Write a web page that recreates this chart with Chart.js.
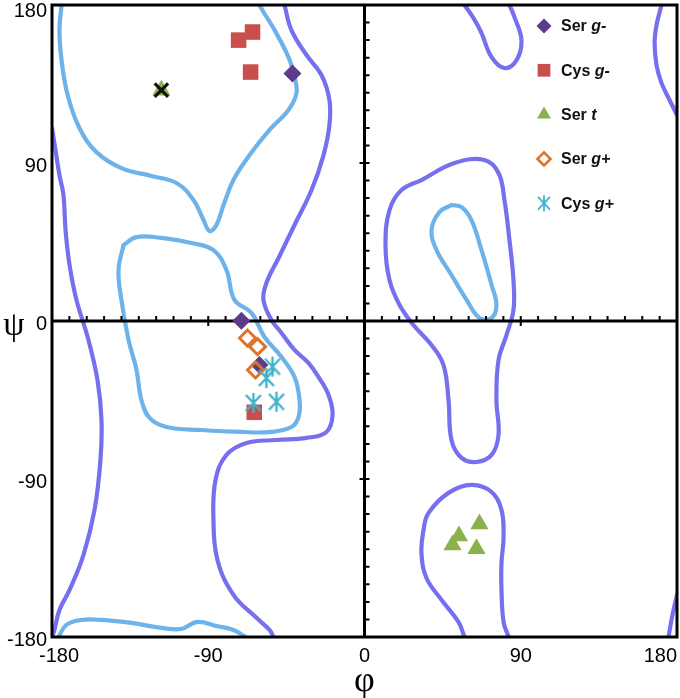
<!DOCTYPE html>
<html><head><meta charset="utf-8">
<script src="https://cdn.jsdelivr.net/npm/chart.js@4.4.1/dist/chart.umd.min.js"></script>
<style>html,body{margin:0;padding:0;background:#fff;}canvas{display:block;}</style>
</head><body>
<canvas id="c" width="680" height="698"></canvas>
<script>
// ---- tick labels ----
const X_TICKS = [-180, -90, 0, 90, 180];
const Y_TICKS = [-180, -90, 0, 90, 180];
const MINOR_TICKS = [-170,-160,-150,-140,-130,-120,-110,-100,-90,-80,-70,-60,-50,-40,-30,-20,-10,
                     10,20,30,40,50,60,70,80,90,100,110,120,130,140,150,160,170];

// ---- legend ----
const LEGEND = [['Ser ', 'g-'], ['Cys ', 'g-'], ['Ser ', 't'], ['Ser ', 'g+'], ['Cys ', 'g+']];

// ---- points [phi, psi] ----
const SER_GMINUS = [[-41.5, 141], [-70.9, 0.2], [-60.5, -25]];
const CYS_GMINUS = [[-72.5, 160], [-64.5, 164.6], [-65.6, 141.8], [-63.5, -52]];
const SER_T = [[-117, 131.5], [66.2, -115.6], [54.4, -122.4], [50.7, -127.6], [64.5, -129.8]];
const SER_GPLUS = [[-67.4, -9.7], [-61.6, -14.6], [-62.8, -27.9]];
const CYS_GPLUS = [[-53, -26], [-56.5, -32.5], [-64, -46.7], [-50.7, -46]];
const X_MARK = [[-117, 131.5]];

// ---- contours [phi, psi] ----
const BLUE_BETA = [[-174.5,180],[-175.7,165.7],[-174.5,148.6],[-171,128.7],[-164.2,109.9],[-154.4,96.2],[-140,87.1],
  [-122.7,82.6],[-108.3,78.6],[-98.5,68.9],[-92.7,57.5],[-89.3,51.3],[-85.3,54.7],[-81.2,66.1],[-75.5,80.3],
  [-66.2,94.5],[-54.7,108.8],[-43.8,120.2],[-39.2,129.8],[-40.3,139],[-43.8,150.3],[-51.8,165.7],[-58.2,176],[-60.5,180]];
const BLUE_ALPHA = [[-138.8,43.3],[-131.3,47.8],[-116.9,47.3],[-99.7,44.4],[-87,40.4],[-79.5,29],[-74.9,12],[-65.1,4.6],
  [-57.6,-9.1],[-47.8,-20.5],[-40.3,-31.9],[-37.4,-45],[-38,-54.7],[-42.1,-60.4],[-53.6,-63.2],[-70.9,-63.2],
  [-93.9,-62.1],[-114.1,-60.4],[-123.8,-55.2],[-128.5,-45],[-131.3,-27.9],[-135.9,-10.8],[-140,12],[-141.7,29],[-138.8,43.3]];
const BLUE_BOTTOM = [[-176.3,-180],[-171.7,-173.1],[-163,-170.3],[-151.5,-170.3],[-134.2,-172],[-116.9,-174.8],
  [-105.4,-175.4],[-96.2,-171.4],[-85.3,-173.7],[-75.5,-176],[-68.5,-180]];
const BLUE_LEFTHAND = [[50.1,66.1],[55.9,64.9],[61.6,57.5],[67.4,40.4],[73.2,20.5],[76,9.1],[73.2,1.7],[66.2,1.7],
  [58.8,12],[50.1,26.2],[41.5,40.4],[38.6,51.8],[43.2,62.1],[50.1,66.1]];

const PURPLE_MAIN = [[-46.1,180],[-42.1,165.7],[-33.4,151.5],[-24.8,140.1],[-20.2,125.9],[-20.2,111.6],[-23.6,94.5],
  [-30.5,74.6],[-40.3,54.7],[-49.5,35.9],[-56.5,21.6],[-58.2,12],[-53.6,0.6],[-47.8,-6.8],[-40.3,-16.5],[-32.3,-23.9],
  [-26.5,-31.9],[-20.7,-42.1],[-18.4,-53.5],[-21.9,-63.2],[-33.4,-66.6],[-50.7,-67.8],[-68,-69.5],[-79.5,-76.3],
  [-85.8,-90.5],[-87,-113.3],[-84.7,-136.1],[-75.5,-156],[-62.2,-169.1],[-54.7,-176],[-52.4,-180]];
const PURPLE_LEFT = [[-180,109.9],[-178,97.4],[-175.7,83.1],[-173.4,71.8],[-172.2,51.8],[-169.9,31.9],[-165.9,12],
  [-159,-10.8],[-153.8,-33.6],[-151.5,-56.4],[-152.1,-79.2],[-155.5,-107.6],[-161.9,-133.3],[-169.9,-153.2],
  [-175.7,-164.6],[-178.6,-176],[-180,-180]];
const PURPLE_RIGHT_TOP = [[171.1,180],[168.2,168.6],[167.1,158.3],[168.2,145.8],[171.1,135.5],[175.7,125.9],[180,117.3]];
const PURPLE_RIGHT_BOTTOM = [[180,-156],[177.4,-167.4],[175.1,-180]];
const PURPLE_TOP_U = [[57.6,180],[62.8,172.5],[67.4,164],[73.2,150.3],[80.6,144.1],[87.6,148.6],[90.4,160],[86.4,173.1],[83.5,180]];
const PURPLE_BOTTOM_U = [[57.6,-180],[54.1,-171.4],[44.4,-158.9],[35.7,-146.4],[32.8,-132.1],[34,-119],[36.9,-109.3],
  [48.4,-97.9],[61.6,-93.4],[73.2,-97.4],[78.9,-107.6],[80.1,-123],[78.9,-137.8],[78.9,-153.2],[80.1,-171.4],[83,-180]];
const PURPLE_LEFTHAND = [[32.8,80.3],[51.8,90],[69.1,91.7],[77.2,84.3],[80.6,68.9],[83.5,46.1],[85.8,23.3],[85.8,6.3],
  [81.8,-8],[77.2,-22.2],[76,-45],[77.2,-64.9],[73.2,-76.3],[64.5,-80.3],[55.9,-78],[50.1,-67.8],[48.4,-45],
  [45.5,-25.1],[38.6,-13.7],[28.2,-2.3],[20.2,9.1],[14.4,23.3],[12.1,43.3],[14.4,63.2],[21.3,74.6],[32.8,80.3]];

// ---- styles ----
const C_BLUE = '#6db3ea', C_PURPLE = '#7670ee';
const FONT = '"Liberation Sans", Arial, Helvetica, sans-serif';

function asterisk(scale, color) {
  const w = Math.round(20 * scale), h = Math.round(24 * scale);
  const cv = document.createElement('canvas'); cv.width = w; cv.height = h;
  const g = cv.getContext('2d');
  g.strokeStyle = color; g.lineWidth = 2.3 * scale;
  const cx = w / 2, cy = h / 2;
  g.beginPath();
  g.moveTo(cx, cy - 10 * scale); g.lineTo(cx, cy + 10 * scale);
  g.moveTo(cx - 7.5 * scale, cy - 8 * scale); g.lineTo(cx + 7.5 * scale, cy + 8 * scale);
  g.moveTo(cx - 7.5 * scale, cy + 8 * scale); g.lineTo(cx + 7.5 * scale, cy - 8 * scale);
  g.stroke();
  return cv;
}
const toXY = arr => arr.map(p => ({x: p[0], y: p[1]}));

const STYLES = [
  {pointStyle: 'rectRot', pointRadius: 9, backgroundColor: '#5c3b8c', borderColor: '#5c3b8c', borderWidth: 0},
  {pointStyle: 'rect', pointRadius: 11, backgroundColor: '#c94f4c', borderColor: '#c94f4c', borderWidth: 0},
  {pointStyle: 'triangle', pointRadius: 10.5, backgroundColor: '#8db04f', borderColor: '#8db04f', borderWidth: 0},
  {pointStyle: 'rectRot', pointRadius: 8, backgroundColor: 'rgba(255,255,255,0)', borderColor: '#e07424', borderWidth: 3},
  {pointStyle: asterisk(1, '#3fb1c9'), pointRadius: 10, backgroundColor: '#3fb1c9', borderColor: '#3fb1c9', borderWidth: 0}
];
const LEGEND_STYLES = [
  {pointStyle: 'rectRot', radius: 7.5, fill: '#5c3b8c', stroke: '#5c3b8c', bw: 0},
  {pointStyle: 'rect', radius: 9, fill: '#c94f4c', stroke: '#c94f4c', bw: 0},
  {pointStyle: 'triangle', radius: 8, fill: '#8db04f', stroke: '#8db04f', bw: 0},
  {pointStyle: 'rectRot', radius: 6.5, fill: 'rgba(255,255,255,0)', stroke: '#e07424', bw: 2.6},
  {pointStyle: asterisk(0.8, '#3fb1c9'), radius: 8, fill: '#3fb1c9', stroke: '#3fb1c9', bw: 0}
];

function scatterSet(label, arr, st) {
  return Object.assign({type: 'scatter', label, data: toXY(arr), pointHoverRadius: st.pointRadius,
    pointBackgroundColor: st.backgroundColor, pointBorderColor: st.borderColor, pointBorderWidth: st.borderWidth}, st);
}
function contourSet(arr, color) {
  return {type: 'line', data: toXY(arr), borderColor: color, borderWidth: 4.2, pointRadius: 0, pointHoverRadius: 0,
    fill: false, tension: 0.4, borderCapStyle: 'round', borderJoinStyle: 'round'};
}

const datasets = [
  {type: 'scatter', label: 'x', data: toXY(X_MARK), pointStyle: 'crossRot', pointRadius: 9.5,
    pointBorderColor: '#111', pointBorderWidth: 3.2, pointBackgroundColor: '#111'},
  scatterSet('Cys g+', CYS_GPLUS, STYLES[4]),
  scatterSet('Ser g+', SER_GPLUS, STYLES[3]),
  scatterSet('Ser t', SER_T, STYLES[2]),
  scatterSet('Cys g-', CYS_GMINUS, STYLES[1]),
  scatterSet('Ser g-', SER_GMINUS, STYLES[0])
];
const FIRST_CONTOUR = datasets.length;
[BLUE_BETA, BLUE_ALPHA, BLUE_BOTTOM, BLUE_LEFTHAND].forEach(a => datasets.push(contourSet(a, C_BLUE)));
[PURPLE_MAIN, PURPLE_LEFT, PURPLE_RIGHT_TOP, PURPLE_RIGHT_BOTTOM, PURPLE_TOP_U, PURPLE_BOTTOM_U, PURPLE_LEFTHAND]
  .forEach(a => datasets.push(contourSet(a, C_PURPLE)));

function drawFrame(chart) {
  const {ctx, chartArea: a, scales: {x, y}} = chart;
  const x0 = x.getPixelForValue(0), y0 = y.getPixelForValue(0);
  ctx.save();
  ctx.strokeStyle = '#000';
  ctx.lineWidth = 3;
  ctx.strokeRect(a.left, a.top, a.right - a.left, a.bottom - a.top);
  ctx.beginPath();
  ctx.moveTo(x0, a.top); ctx.lineTo(x0, a.bottom);
  ctx.moveTo(a.left, y0); ctx.lineTo(a.right, y0);
  ctx.stroke();
  ctx.lineWidth = 2;
  ctx.beginPath();
  MINOR_TICKS.forEach(v => {
    const big = Math.abs(v) === 90;
    const px = x.getPixelForValue(v);
    ctx.moveTo(px, y0 - 5); ctx.lineTo(px, big ? y0 + 5 : y0);
    const py = y.getPixelForValue(v);
    ctx.moveTo(x0 + 5, py); ctx.lineTo(big ? x0 - 5 : x0, py);
  });
  ctx.stroke();
  ctx.restore();
}

function drawMarker(ctx, st, px, py) {
  ctx.save();
  ctx.fillStyle = st.fill; ctx.strokeStyle = st.stroke; ctx.lineWidth = st.bw;
  if (Chart.helpers && Chart.helpers.drawPoint) {
    Chart.helpers.drawPoint(ctx, {pointStyle: st.pointStyle, radius: st.radius, rotation: 0, borderWidth: st.bw}, px, py);
  }
  ctx.restore();
}

const overlay = {
  id: 'overlay',
  afterDatasetDraw(chart, args) {
    if (args.index === FIRST_CONTOUR) drawFrame(chart);
  },
  afterDraw(chart) {
    const {ctx, chartArea: a, scales: {x, y}} = chart;
    ctx.save();
    ctx.fillStyle = '#000';
    ctx.font = '20px ' + FONT;
    ctx.textAlign = 'right'; ctx.textBaseline = 'middle';
    Y_TICKS.forEach(v => {
      const py = Math.max(y.getPixelForValue(v) + 3, 11);
      ctx.fillText(String(v), a.left - 5, py);
    });
    ctx.textAlign = 'center'; ctx.textBaseline = 'top';
    X_TICKS.forEach(v => {
      const t = String(v), tw = ctx.measureText(t).width;
      let px = x.getPixelForValue(v);
      px = Math.max(px, a.left - 13 + tw / 2);
      px = Math.min(px, a.right - tw / 2);
      ctx.fillText(t, px, a.bottom + 9);
    });
    // axis titles
    ctx.textBaseline = 'middle';
    ctx.font = '34px "Liberation Serif", "Times New Roman", serif';
    ctx.fillText('\u03C8', 14, y.getPixelForValue(0) + 5);
    ctx.font = '36px "Liberation Serif", "Times New Roman", serif';
    ctx.fillText('\u03C6', x.getPixelForValue(0), a.bottom + 45);
    // legend
    const lx = a.right - 133, ly0 = a.top + 21, dy = 44.3;
    LEGEND.forEach((parts, i) => {
      const cy = ly0 + i * dy;
      drawMarker(ctx, LEGEND_STYLES[i], lx, cy);
      ctx.fillStyle = '#111';
      ctx.textAlign = 'left'; ctx.textBaseline = 'middle';
      ctx.font = 'bold 16px ' + FONT;
      ctx.fillText(parts[0], lx + 17, cy + 1);
      const w = ctx.measureText(parts[0]).width;
      ctx.font = 'italic bold 16px ' + FONT;
      ctx.fillText(parts[1], lx + 17 + w, cy + 1);
    });
    ctx.restore();
  }
};

new Chart(document.getElementById('c'), {
  type: 'scatter',
  data: {datasets},
  options: {
    responsive: false, animation: false, devicePixelRatio: 1,
    layout: {autoPadding: false, padding: {top: 5, right: 3, left: 0, bottom: 0}},
    plugins: {legend: {display: false}, tooltip: {enabled: false}},
    events: [],
    scales: {
      x: {type: 'linear', min: -180, max: 180, ticks: {display: false}, grid: {display: false, drawTicks: false},
          border: {display: false}, afterFit: s => { s.height = 61; }},
      y: {type: 'linear', min: -180, max: 180, ticks: {display: false}, grid: {display: false, drawTicks: false},
          border: {display: false}, afterFit: s => { s.width = 52; }}
    }
  },
  plugins: [overlay]
});
</script>
</body></html>
